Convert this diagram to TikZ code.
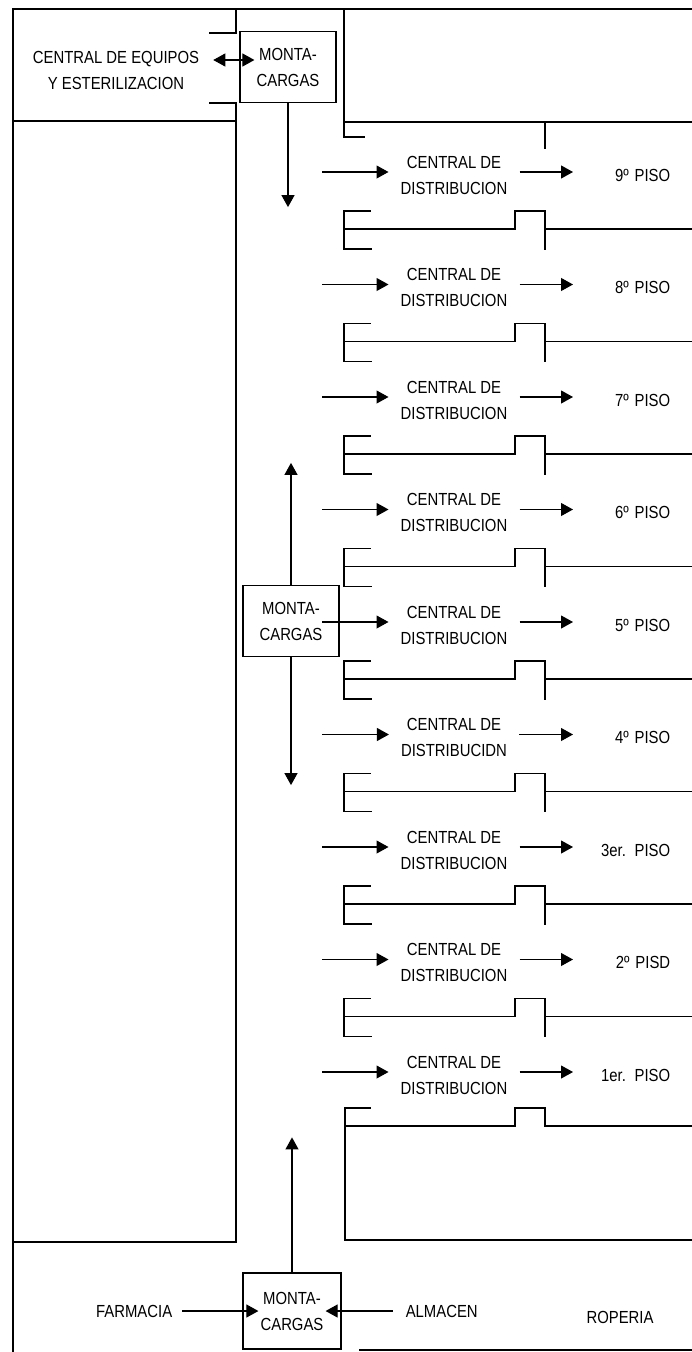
\documentclass[tikz,border=0pt]{standalone}
\usepackage{fontspec}
\setmainfont[FakeStretch=0.85]{Liberation Sans}
\usetikzlibrary{arrows.meta, positioning}

\newcommand{\lblfont}{\fontsize{17.5}{26}\selectfont}
\tikzset{
  wall/.style={line width=1.2pt, line cap=rect},
  lift/.style={draw, line width=1.2pt, minimum width=96pt, minimum height=71pt, align=center, inner sep=0pt, font=\lblfont},
  lbl/.style={align=center, inner sep=0pt, font=\lblfont},
  flow/.style={line width=1.1pt, -{Triangle[length=12pt, width=13pt]}},
  dflow/.style={line width=1.1pt, {Triangle[length=12pt, width=13pt]}-{Triangle[length=12pt, width=13pt]}},
}

\begin{document}
\begin{tikzpicture}[x=1pt, y=-1pt]
  \useasboundingbox (0,0) rectangle (692,1352);

  % walls
  \draw[wall] (692,9) -- (13,9) -- (13,1352);
  \draw[wall] (13,121) -- (236,121);
  \draw[wall] (210,33) -- (236,33) -- (236,9);
  \draw[wall] (210,103) -- (236,103) -- (236,1242) -- (13,1242);
  \draw[wall] (344,9) -- (344,137) -- (364,137);
  \draw[wall] (344,122) -- (692,122);
  \draw[wall] (545,122) -- (545,148);
  \foreach \k in {0,...,7} {
    \pgfmathsetmacro{\sy}{211+112.5*\k}
    \draw[wall] (370,\sy) -- (344,\sy) -- (344,\sy+38) -- (371,\sy+38);
    \draw[wall] (344,\sy+18) -- (515,\sy+18) -- (515,\sy) -- (545,\sy) -- (545,\sy+38);
    \draw[wall] (545,\sy+18) -- (692,\sy+18);
  }
  \draw[wall] (370,1108) -- (345,1108) -- (345,1240) -- (692,1240);
  \draw[wall] (345,1126) -- (515,1126) -- (515,1108) -- (545,1108) -- (545,1126) -- (692,1126);
  \draw[wall] (360,1350) -- (692,1350);

  % montacargas
  \node[lift] (mcTop) at (288,67) {MONTA-\\CARGAS};
  \node[lift] (mcMid) at (291,621) {MONTA-\\CARGAS};
  \node[lift, minimum width=98pt, minimum height=76pt] (mcLow) at (292,1311) {MONTA-\\CARGAS};

  \node[lbl] (equipos) at (116,70) {CENTRAL DE EQUIPOS\\Y ESTERILIZACION};
  \draw[dflow] ([xshift=14pt, yshift=10pt]equipos.east) -- ([xshift=15pt, yshift=7pt]mcTop.west);

  \coordinate[below=104pt of mcTop.south] (dnTop);
  \coordinate[above=122pt of mcMid.north] (upMid);
  \coordinate[below=128pt of mcMid.south] (dnMid);
  \coordinate[above=135pt of mcLow.north] (upLow);
  \draw[flow] (mcTop.south) -- (dnTop);
  \draw[flow] (mcMid.north) -- (upMid);
  \draw[flow] (mcMid.south) -- (dnMid);
  \draw[flow] (mcLow.north) -- (upLow);

  % pisos
  \foreach \lab/\dist [count=\k from 0] in {9º PISO/DISTRIBUCION, 8º PISO/DISTRIBUCION,
      7º PISO/DISTRIBUCION, 6º PISO/DISTRIBUCION, 5º PISO/DISTRIBUCION, 4º PISO/DISTRIBUCIDN,
      3er. PISO/DISTRIBUCION, 2º PISD/DISTRIBUCION, 1er. PISO/DISTRIBUCION} {
    \pgfmathsetmacro{\ry}{172+112.5*\k}
    \coordinate (in\k) at (322,\ry);
    \node[lbl, inner xsep=12pt] (cen\k) at (454,\ry+3) {CENTRAL DE\\\dist};
    \node[lbl, anchor=west, text width=97pt, align=right] (piso\k) at (573,\ry+3) {\lab};
    \draw[flow] (in\k) -- (cen\k.west |- in\k);
    \draw[flow] (cen\k.east |- in\k) -- (piso\k.west |- in\k);
  }

  % planta baja
  \node[lbl, left=70pt of mcLow] (farm) {FARMACIA};
  \node[lbl, right=64pt of mcLow] (alm) {ALMACEN};
  \node[lbl] (rop) at (620,1317) {ROPERIA};
  \draw[flow] ([xshift=10pt]farm.east) -- ([xshift=16pt]mcLow.west);
  \draw[flow] ([xshift=-13pt]alm.west) -- ([xshift=-16pt]mcLow.east);
\end{tikzpicture}
\end{document}
